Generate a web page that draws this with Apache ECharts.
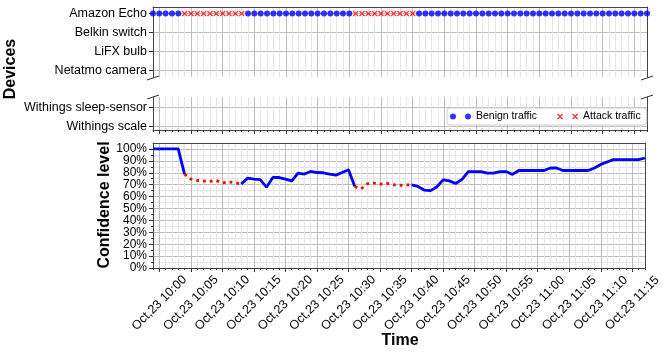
<!DOCTYPE html>
<html>
<head>
<meta charset="utf-8">
<script src="https://cdn.jsdelivr.net/npm/echarts@6/dist/echarts.min.js"></script>
<style>
  html, body { margin: 0; padding: 0; background: #fff; }
  #chart { width: 664px; height: 355px; }
</style>
</head>
<body>
<div id="chart"></div>
<script>
// one sample per minute
const times = [
  "09:59",
  "10:00", "10:01", "10:02", "10:03", "10:04", "10:05", "10:06", "10:07", "10:08", "10:09",
  "10:10", "10:11", "10:12", "10:13", "10:14", "10:15", "10:16", "10:17", "10:18", "10:19",
  "10:20", "10:21", "10:22", "10:23", "10:24", "10:25", "10:26", "10:27", "10:28", "10:29",
  "10:30", "10:31", "10:32", "10:33", "10:34", "10:35", "10:36", "10:37", "10:38", "10:39",
  "10:40", "10:41", "10:42", "10:43", "10:44", "10:45", "10:46", "10:47", "10:48", "10:49",
  "10:50", "10:51", "10:52", "10:53", "10:54", "10:55", "10:56", "10:57", "10:58", "10:59",
  "11:00", "11:01", "11:02", "11:03", "11:04", "11:05", "11:06", "11:07", "11:08", "11:09",
  "11:10", "11:11", "11:12", "11:13", "11:14", "11:15", "11:16", "11:17",
];

// confidence level (%)
const confidence = [
  100,
  100, 100, 100, 100, 78.9, 74.7, 73.5, 73.0, 72.8, 73.5,
  71.5, 72.4, 71.5, 70.6, 75.5, 74.7, 74.3, 67.9, 76.0, 76.0,
  74.7, 73.2, 79.7, 78.9, 81.1, 80.2, 80.0, 78.9, 78.0, 80.2,
  82.5, 68.4, 66.5, 70.8, 71.3, 70.4, 71.3, 70.0, 69.3, 69.8,
  69.8, 68.5, 65.5, 65.0, 68.0, 74.0, 73.2, 71.0, 74.5, 81.0,
  81.0, 81.0, 79.7, 79.7, 81.0, 81.0, 78.6, 81.9, 81.9, 81.9,
  81.9, 81.9, 84.0, 84.0, 81.9, 81.9, 81.9, 81.9, 81.9, 84.0,
  87.0, 89.0, 91.0, 91.0, 91.0, 91.0, 91.0, 92.4,
];

// attack periods (inclusive)
const attackWindows = [
  ["10:04", "10:13"],
  ["10:31", "10:40"],
];

const devicesTop = ["Amazon Echo", "Belkin switch", "LiFX bulb", "Netatmo camera"];
const devicesBottom = ["Withings sleep-sensor", "Withings scale"];
const trafficDevice = "Amazon Echo";

const timeTicks = [
  "10:00", "10:05", "10:10", "10:15", "10:20", "10:25", "10:30", "10:35",
  "10:40", "10:45", "10:50", "10:55", "11:00", "11:05", "11:10", "11:15",
];
const confidenceTicks = [0, 10, 20, 30, 40, 50, 60, 70, 80, 90, 100];
const confidenceMinorTicks = [5, 15, 25, 35, 45, 55, 65, 75, 85, 95];

const FONT = "'Liberation Sans', Arial, sans-serif";
const BLUE = "#0000ff";
const RED = "#ff0000";

const toMin = (t) => {
  const [h, m] = t.split(":").map(Number);
  return h * 60 + m - 600;
};
const isAttack = (t) =>
  attackWindows.some(([a, b]) => toMin(t) >= toMin(a) && toMin(t) <= toMin(b));

const allDevices = devicesTop.concat(devicesBottom);
const deviceIdx = allDevices.indexOf(trafficDevice);
const xMin = toMin(times[0]);
const xMax = toMin(times[times.length - 1]);
const majorX = timeTicks.map(toMin);
const minorX = times.map(toMin).filter((m) => majorX.indexOf(m) < 0);

const attackFlags = times.map(isAttack);
// benign line keeps the boundary points so it joins the attack segments
const blueLine = times.map((t, i) => {
  const keep = !attackFlags[i] || attackFlags[i - 1] === false || attackFlags[i + 1] === false;
  return [toMin(t), keep ? confidence[i] : "-"];
});
const redLine = times.map((t, i) => [toMin(t), attackFlags[i] ? confidence[i] : "-"]);

const benignPts = times.filter((t, i) => !attackFlags[i]).map((t) => [toMin(t), deviceIdx]);
const attackPts = times.filter((t, i) => attackFlags[i]).map((t) => [toMin(t), deviceIdx]);

const CROSS = "path://M0,1.6L1.6,0L5,3.4L8.4,0L10,1.6L6.6,5L10,8.4L8.4,10L5,6.6L1.6,10L0,8.4L3.4,5Z";
const DOTS_ICON = "path://M0,3a3,3 0 1,0 6,0a3,3 0 1,0 -6,0ZM15,3a3,3 0 1,0 6,0a3,3 0 1,0 -6,0Z";
const CROSS_ICON =
  "path://M0,0.9L0.9,0L3,2.1L5.1,0L6,0.9L3.9,3L6,5.1L5.1,6L3,3.9L0.9,6L0,5.1L2.1,3Z" +
  "M15,0.9L15.9,0L18,2.1L20.1,0L21,0.9L18.9,3L21,5.1L20.1,6L18,3.9L15.9,6L15,5.1L17.1,3Z";

const spine = { show: true, onZero: false, lineStyle: { color: "#444", width: 1 } };
const noLine = { show: false, onZero: false };
const majorGrid = { show: true, lineStyle: { color: "#bdbdbd", width: 1 } };
const minorGrid = { show: true, lineStyle: { color: "#e6e6e6", width: 1 } };
const tick = (len, values) => ({
  show: true, inside: false, length: len, customValues: values,
  lineStyle: { color: "#333", width: 1 },
});
const noTick = (values) => ({ show: false, customValues: values });
const noLabel = { show: false };
const label = (values, size, fmt, extra) =>
  Object.assign(
    { show: true, customValues: values, margin: 6, fontSize: size, color: "#000",
      fontFamily: FONT, showMinLabel: true, showMaxLabel: true, hideOverlap: false,
      formatter: fmt },
    extra
  );

function xAxisOf(grid, position, opts) {
  return Object.assign(
    { gridIndex: grid, type: "value", min: xMin, max: xMax, position: position,
      axisLine: noLine, axisTick: { show: false }, axisLabel: noLabel, splitLine: { show: false } },
    opts
  );
}
function yAxisOf(grid, position, min, max, inverse, opts) {
  return Object.assign(
    { gridIndex: grid, type: "value", min: min, max: max, inverse: inverse, position: position,
      axisLine: noLine, axisTick: { show: false }, axisLabel: noLabel, splitLine: { show: false } },
    opts
  );
}

const chart = echarts.init(document.getElementById("chart"));

const option = {
  animation: false,
  textStyle: { fontFamily: FONT },
  grid: [
    { left: 153, width: 494, top: 7, height: 70 },
    { left: 153, width: 494, top: 97, height: 33 },
    { left: 153, width: 494, top: 143, height: 125 },
  ],
  xAxis: [
    // grid 0
    xAxisOf(0, "top", { axisLine: spine, axisTick: noTick(majorX), splitLine: majorGrid }),
    xAxisOf(0, "top", { axisTick: noTick(minorX), splitLine: minorGrid }),
    // grid 1
    xAxisOf(1, "bottom", { axisLine: spine, axisTick: tick(4, majorX), splitLine: majorGrid }),
    xAxisOf(1, "bottom", { axisTick: tick(2, minorX), splitLine: minorGrid }),
    // grid 2
    xAxisOf(2, "bottom", {
      axisLine: spine,
      axisTick: tick(4, majorX),
      splitLine: majorGrid,
      axisLabel: label(majorX, 12.5, (v) => "Oct,23 " + timeTicks[majorX.indexOf(v)], {
        rotate: 45, align: "center", verticalAlign: "middle", margin: 35,
      }),
    }),
    xAxisOf(2, "bottom", { axisTick: tick(2, minorX), splitLine: minorGrid }),
    xAxisOf(2, "top", { axisLine: spine }),
  ],
  yAxis: [
    // grid 0
    yAxisOf(0, "left", -0.35, 3.35, true, {
      axisLine: spine,
      axisTick: tick(4, [0, 1, 2, 3]),
      splitLine: majorGrid,
      axisLabel: label([0, 1, 2, 3], 12.5, (v) => allDevices[v]),
    }),
    yAxisOf(0, "right", -0.35, 3.35, true, { axisLine: spine }),
    // grid 1
    yAxisOf(1, "left", 3.45, 5.2, true, {
      axisLine: spine,
      axisTick: tick(4, [4, 5]),
      splitLine: majorGrid,
      axisLabel: label([4, 5], 12.5, (v) => allDevices[v]),
    }),
    yAxisOf(1, "right", 3.45, 5.2, true, { axisLine: spine }),
    // grid 2
    yAxisOf(2, "left", 0, 105, false, {
      axisLine: spine,
      axisTick: tick(4, confidenceTicks),
      splitLine: majorGrid,
      axisLabel: label(confidenceTicks, 12, (v) => v + "%"),
    }),
    yAxisOf(2, "left", 0, 105, false, {
      axisTick: tick(2, confidenceMinorTicks),
      splitLine: minorGrid,
    }),
    yAxisOf(2, "right", 0, 105, false, { axisLine: spine }),
  ],
  legend: {
    left: 447,
    top: 108,
    orient: "horizontal",
    padding: [3, 6, 3, 3],
    itemGap: 20,
    itemWidth: 21,
    itemHeight: 6,
    backgroundColor: "#fff",
    borderColor: "#cfcfcf",
    borderWidth: 1,
    borderRadius: 3,
    textStyle: { fontSize: 10.5, color: "#000", fontFamily: FONT },
    data: [
      { name: "Benign traffic", icon: DOTS_ICON },
      { name: "Attack traffic", icon: CROSS_ICON },
    ],
  },
  series: [
    {
      name: "Benign traffic",
      type: "scatter",
      xAxisIndex: 0,
      yAxisIndex: 0,
      symbol: "circle",
      symbolSize: 6,
      itemStyle: { color: BLUE },
      data: benignPts,
      z: 5,
    },
    {
      name: "Attack traffic",
      type: "scatter",
      xAxisIndex: 0,
      yAxisIndex: 0,
      symbol: CROSS,
      symbolSize: 6,
      itemStyle: { color: RED },
      data: attackPts,
      z: 5,
    },
    {
      name: "Benign confidence",
      type: "line",
      xAxisIndex: 4,
      yAxisIndex: 4,
      showSymbol: false,
      symbol: "none",
      connectNulls: false,
      lineStyle: { color: BLUE, width: 2.8 },
      data: blueLine,
      z: 4,
    },
    {
      name: "Attack confidence",
      type: "line",
      xAxisIndex: 4,
      yAxisIndex: 4,
      showSymbol: false,
      symbol: "none",
      connectNulls: false,
      lineStyle: { color: RED, width: 2.8, type: [2.8, 4], cap: "butt" },
      data: redLine,
      z: 4,
    },
  ],
  graphic: [
    {
      type: "text", x: 11, y: 69, rotation: Math.PI / 2,
      style: { text: "Devices", fontSize: 16, fontWeight: "bold", fontFamily: FONT,
        fill: "#000", align: "center", verticalAlign: "middle" },
    },
    {
      type: "text", x: 105, y: 205, rotation: Math.PI / 2,
      style: { text: "Confidence level", fontSize: 16, fontWeight: "bold", fontFamily: FONT,
        fill: "#000", align: "center", verticalAlign: "middle" },
    },
    {
      type: "text", x: 400, y: 341,
      style: { text: "Time", fontSize: 16, fontWeight: "bold", fontFamily: FONT,
        fill: "#000", align: "center", verticalAlign: "middle" },
    },
    // broken-axis marks
    { type: "line", shape: { x1: 147, y1: 80, x2: 159, y2: 76 }, style: { stroke: "#333", lineWidth: 1 } },
    { type: "line", shape: { x1: 147, y1: 99, x2: 159, y2: 95 }, style: { stroke: "#333", lineWidth: 1 } },
    { type: "line", shape: { x1: 641, y1: 80, x2: 653, y2: 76 }, style: { stroke: "#333", lineWidth: 1 } },
    { type: "line", shape: { x1: 641, y1: 99, x2: 653, y2: 95 }, style: { stroke: "#333", lineWidth: 1 } },
  ],
};

chart.setOption(option);
</script>
</body>
</html>
